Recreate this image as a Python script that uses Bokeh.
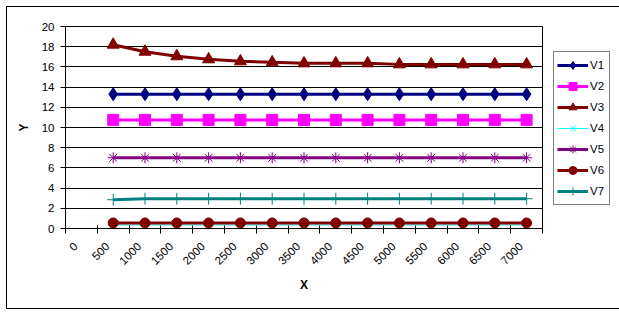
from bokeh.plotting import figure
from bokeh.models import Range1d, FixedTicker, Legend, LegendItem
from bokeh.embed import file_html
from bokeh.resources import INLINE
from math import pi

x_categories = ["0", "500", "1000", "1500", "2000", "2500", "3000", "3500",
                "4000", "4500", "5000", "5500", "6000", "6500", "7000"]
x_values = ["500", "1000", "1500", "2000", "2500", "3000", "3500",
            "4000", "4500", "5000", "5500", "6000", "6500", "7000"]

V1 = [13.3, 13.3, 13.3, 13.3, 13.3, 13.3, 13.3, 13.3, 13.3, 13.3, 13.3, 13.3, 13.3, 13.3]
V2 = [10.75, 10.75, 10.75, 10.75, 10.75, 10.75, 10.75, 10.75, 10.75, 10.75, 10.75, 10.75, 10.75, 10.75]
V3 = [18.2, 17.5, 17.05, 16.75, 16.55, 16.45, 16.35, 16.35, 16.35, 16.25, 16.25, 16.25, 16.25, 16.25]
V4 = [0.35, 0.35, 0.35, 0.35, 0.35, 0.35, 0.35, 0.35, 0.35, 0.35, 0.35, 0.35, 0.35, 0.35]
V5 = [7.0, 7.0, 7.0, 7.0, 7.0, 7.0, 7.0, 7.0, 7.0, 7.0, 7.0, 7.0, 7.0, 7.0]
V6 = [0.55, 0.55, 0.55, 0.55, 0.55, 0.55, 0.55, 0.55, 0.55, 0.55, 0.55, 0.55, 0.55, 0.55]
V7 = [2.85, 2.95, 2.95, 2.95, 2.95, 2.95, 2.95, 2.95, 2.95, 2.95, 2.95, 2.95, 2.95, 2.95]
y_ticks = [0, 2, 4, 6, 8, 10, 12, 14, 16, 18, 20]

FONT = "Liberation Sans"

# category positions (integer index of each category on the axis)
xpos = [x_categories.index(v) for v in x_values]
ncat = len(x_categories)
label_shift = 0.18  # rotated labels sit slightly left of the category centre

p = figure(frame_width=477, frame_height=202, output_backend="svg", toolbar_location=None,
           x_range=Range1d(-0.5, ncat - 0.5), y_range=Range1d(0, 20),
           min_border_left=58, min_border_top=19, min_border_right=70, min_border_bottom=80,
           margin=(7, 0, 0, 7),
           styles={"outline": "1px solid black", "outline-offset": "0px"})
p.background_fill_color = "white"
p.border_fill_color = "white"
p.outline_line_color = "black"
p.outline_line_width = 1

# x axis: labels at category centres, ticks at category boundaries
xa = p.xaxis[0]
xa.ticker = FixedTicker(ticks=[i - label_shift for i in range(ncat)],
                        minor_ticks=[i - 0.5 for i in range(ncat + 1)])
xa.major_label_overrides = {i - label_shift: c for i, c in enumerate(x_categories)}
xa.major_label_orientation = pi / 4
xa.major_tick_line_color = None
xa.major_tick_in = 0
xa.major_tick_out = 5
xa.minor_tick_in = 3
xa.minor_tick_out = 5
xa.minor_tick_line_color = "black"
xa.axis_line_color = "black"
xa.major_label_standoff = 11
xa.major_label_text_font = FONT
xa.major_label_text_font_size = "11.5px"
xa.major_label_text_color = "black"
xa.axis_label = "X"
xa.axis_label_text_font = FONT
xa.axis_label_text_font_size = "12px"
xa.axis_label_text_font_style = "bold"
xa.axis_label_text_color = "black"
xa.axis_label_standoff = 7

ya = p.yaxis[0]
ya.ticker = FixedTicker(ticks=y_ticks)
ya.major_tick_in = 4
ya.major_tick_out = 5
ya.major_tick_line_color = "black"
ya.minor_tick_line_color = None
ya.axis_line_color = "black"
ya.major_label_standoff = 6
ya.major_label_text_font = FONT
ya.major_label_text_font_size = "11.5px"
ya.major_label_text_color = "black"
ya.axis_label = "Y"
ya.axis_label_text_font = FONT
ya.axis_label_text_font_size = "12px"
ya.axis_label_text_font_style = "bold"
ya.axis_label_text_color = "black"
ya.axis_label_standoff = 8

p.xgrid.visible = False
p.ygrid.grid_line_color = "black"
p.ygrid.grid_line_width = 1

series = [
    ("V1", V1, "#000080", "diamond", 13, 3, 1),
    ("V2", V2, "#FF00FF", "square", 11, 3, 1),
    ("V3", V3, "#800000", "triangle", 12, 3, 1),
    ("V4", V4, "#00FFFF", "x", 7, 1, 1),
    ("V5", V5, "#800080", "asterisk", 11, 3, 1),
    ("V6", V6, "#800000", "circle", 10, 3, 1),
    ("V7", V7, "#008080", "cross", 12, 3, 1),
]

items = []
for name, ys, col, mk, sz, lw, mlw in series:
    r1 = p.line(xpos, ys, line_color=col, line_width=lw)
    r2 = p.scatter(xpos, ys, marker=mk, size=sz, fill_color=col,
                   line_color=col, line_width=mlw)
    items.append(LegendItem(label=name, renderers=[r1, r2]))

legend = Legend(items=items, location=(11, 23), orientation="vertical",
                nrows=len(items), ncols=1)
legend.padding = 3
legend.spacing = 1
legend.margin = 0
legend.glyph_height = 20
legend.glyph_width = 31
legend.label_standoff = 2
legend.label_width = 16
legend.label_height = 20
legend.label_text_font = FONT
legend.label_text_font_size = "11.5px"
legend.label_text_color = "black"
legend.border_line_color = "black"
legend.border_line_width = 1
legend.background_fill_color = "white"
legend.background_fill_alpha = 1
p.add_layout(legend, "right")

open("out.html", "w").write(file_html(p, INLINE))
